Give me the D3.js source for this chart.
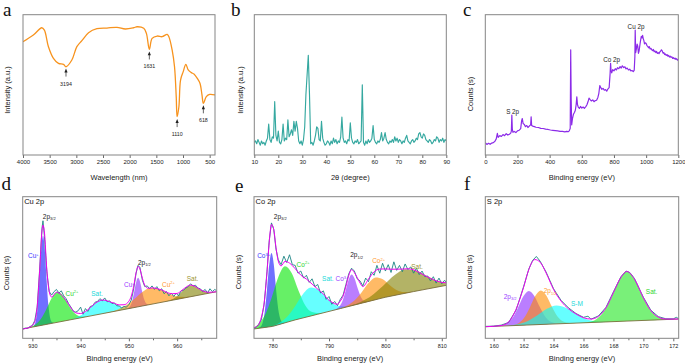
<!DOCTYPE html>
<html><head><meta charset="utf-8">
<script src="https://cdn.jsdelivr.net/npm/d3@7"></script>
<style>body{margin:0;background:#fff}svg{display:block}</style>
</head><body><script>
// ---------------- DATA ----------------
// (a) FTIR: [wavenumber, relative intensity 0-100]
const ftirSpectrum = [[4000,80.8],[3806,85.5],[3649,90.7],[3599,89],[3523,77.2],[3429,68.9],[3335,65.3],[3241,64.6],[3194,62.9],[3084,67.7],[2990,77.2],[2896,81.5],[2771,87.2],[2614,90],[2426,90.5],[2238,91],[2081,89.8],[1924,90.7],[1861,91.4],[1736,90.3],[1686,86.7],[1631,75.3],[1579,83.1],[1485,84.8],[1391,84.3],[1297,86],[1265,84.3],[1203,74.8],[1159,62.9],[1127,41.6],[1110,27.3],[1077,34.4],[1046,53.4],[996,59.4],[946,64.6],[902,60.6],[845,58.7],[795,57.7],[732,54.6],[682,51.1],[644,42.8],[618,36.8],[563,41.6],[500,43.2],[400,42.8]];
const ftirTicks = [4000,3500,3000,2500,2000,1500,1000,500];
const ftirPeaks = [3194,1631,1110,618];
const ftirPeakTips = [61.6,73.8,25.6,35.4];

// (b) XRD: 2theta from 10 to 90 in 0.5 steps
const xrdAngles = d3.range(0, 161).map(i => 10 + i * 0.5);
const xrdIntensity = [
 9,10,8,11,9,7,10,8,9,7,
 10,12,22,11,9,13,12,38,14,10,
 17,9,8,11,22,10,12,11,25,13,
 15,18,14,24,17,24,19,10,8,10,
 7,11,20,43,57,71,43,8,9,7,
 10,14,20,19,11,10,24,12,9,7,
 8,10,9,7,10,8,12,9,11,8,
 10,9,13,27,12,9,10,8,11,10,
 23,12,9,8,10,9,11,8,9,10,
 50,9,7,10,8,11,9,10,12,21,
 11,9,8,10,9,11,16,10,12,16,
 11,9,8,10,9,11,9,13,10,12,
 9,11,10,8,10,9,12,14,10,9,
 8,10,11,9,10,12,11,15,16,13,
 12,15,14,11,10,9,11,10,8,9,
 11,10,13,12,9,11,10,12,9,11,
 10];
const xrdTicks = [10,20,30,40,50,60,70,80,90];

// (c) XPS survey: [binding energy, counts 0-100]
const surveySpectrum = [[0,8.8],[10,7.5],[20,8.3],[30,7.6],[40,8.5],[50,8.8],[60,9.8],[68,11.5],[75,15.5],[80,12.5],[90,13.8],[100,13.2],[110,14.6],[120,13.8],[130,15.2],[140,14.2],[150,14.8],[158,15.6],[162,17],[165,28.5],[168,18.5],[172,16.2],[180,16.8],[190,16],[200,17.2],[210,17.6],[220,18.8],[226,24.5],[230,26],[235,22.5],[242,21.8],[250,20.2],[258,21],[265,19.6],[275,20.8],[282,21.5],[285,27.2],[288,21],[295,20.6],[305,20.2],[315,19.8],[330,19.6],[345,19],[360,18.9],[375,18.4],[390,18.2],[405,17.8],[420,17.6],[435,17.4],[450,17.2],[465,16.9],[480,16.8],[495,16.5],[505,16.8],[515,16.6],[522,17.2],[528,19],[531,75],[534,40],[537,21.5],[542,26],[548,29],[555,30.5],[560,32],[565,36],[569,41.5],[573,36],[578,34.2],[585,33.2],[592,34.6],[600,33.4],[608,34.2],[616,33.3],[625,34.5],[632,35.8],[640,38.5],[645,40.5],[652,39.5],[660,38.5],[668,39.3],[676,38],[684,38.8],[692,39],[700,41],[706,44],[712,49.5],[718,48],[725,46.8],[732,47.5],[740,46.2],[748,46.6],[755,45.5],[762,47],[770,48],[776,58],[779,65.3],[782,60],[786,58.5],[792,60.8],[800,60],[808,61.5],[815,60.6],[822,62.2],[830,61.5],[838,63],[845,62],[852,63.6],[860,62.3],[868,62.8],[875,61.4],[882,62],[890,60.6],[898,61.2],[905,60],[912,60.2],[920,59.4],[926,60.5],[930,70],[932,89],[935,73],[940,76],[944,79],[948,77.5],[952,72.5],[956,74],[962,79],[966,82],[970,84.5],[974,83.5],[978,85.3],[982,83],[986,81.5],[990,79.2],[995,80],[1000,79.5],[1005,78],[1010,77.4],[1015,76.4],[1020,77.2],[1025,75.6],[1030,76],[1035,75],[1040,74.4],[1045,75.2],[1050,73.6],[1055,74.2],[1060,73],[1065,73.8],[1070,72.4],[1075,73],[1080,72.2],[1085,73.4],[1090,74],[1095,75],[1100,74.2],[1105,72.6],[1110,73],[1115,71.6],[1120,72],[1125,71],[1130,71.6],[1135,70.4],[1140,71],[1145,69.8],[1150,70.4],[1155,69.6],[1160,70],[1165,68.8],[1170,69.4],[1175,68.6],[1180,69],[1185,68.2],[1190,68.6],[1195,67.6],[1200,68.2]];
const surveyTicks = [0,200,400,600,800,1000,1200];
const surveyLabels = ["S 2p","Co 2p","Cu 2p"];
const surveyLabelEnergy = [170,785,937];
const surveyLabelLevel = [28.9,66.6,89.8];

// (d) Cu 2p: background, components (height above background), envelope, data
const cuBackground = [[928,6.6],[968.2,32.9]];
const cuPlus32 = [[929.8,0],[930.3,0.8],[930.7,3.9],[931.08,13.2],[931.45,31.5],[931.83,53],[932.2,63],[932.58,53],[932.95,31.5],[933.33,13.2],[933.7,3.9],[934.1,0.8],[934.6,0]];
const cu2Plus32 = [[928.2,0],[929.45,0.3],[930.6,1.3],[931.75,4.5],[932.9,10.75],[934.05,18],[935.2,21.5],[936.35,18],[937.5,10.75],[938.65,4.5],[939.8,1.3],[940.95,0.3],[942.2,0]];
const cuSat1 = [[937.4,0],[938.9,0.6],[940.3,2],[941.65,4.85],[943,8.15],[944.4,9.7],[945.8,8.15],[947.15,4.85],[948.5,2],[949.9,0.6],[951.4,0]];
const cuPlus12 = [[949.1,0],[949.7,0.25],[950.2,1.3],[950.63,4.3],[951.05,10.3],[951.48,17.3],[951.9,20.6],[952.33,17.3],[952.75,10.3],[953.18,4.3],[953.6,1.3],[954.1,0.25],[954.7,0]];
const cu2Plus12 = [[945,0],[946,0.15],[947.5,0.7],[949.25,2.4],[951,5.75],[952.75,9.7],[954.5,11.5],[956.25,9.7],[958,5.75],[959.75,2.4],[961.5,0.7],[963,0.15],[964,0]];
const cuSat2 = [[957.5,0],[958.7,0.5],[959.7,1.7],[960.7,4],[961.7,6.75],[962.7,8],[963.7,6.75],[964.7,4],[965.7,1.7],[966.7,0.5],[967.9,0]];
const cuEnvelope = [[928,6.6],[929.5,7.9],[930.5,11.7],[931,22.1],[931.5,46.7],[932,75.8],[932.2,80],[932.5,75.1],[933,48.4],[933.5,32.8],[934,29.1],[935,32.5],[936,30.7],[937,26.6],[938,21.5],[939,18],[940,17.5],[941,18.9],[942,21.6],[943,24.6],[944,26.6],[944.4,27],[945,26.9],[946,25.8],[947,24.7],[948,23.6],[949,23.7],[950,26.2],[950.5,29.8],[951,36.8],[951.5,46.4],[951.9,50.8],[952.3,48.8],[952.8,42.4],[953.3,37.4],[954,35.3],[955,35.6],[956,34.9],[957,33.9],[958,32.2],[959,31.5],[960,31.7],[961,33.9],[962,36.5],[962.7,37.6],[963.5,37.05],[964.5,35],[965.5,33.2],[966.5,32.5],[968.2,32.9]];
const cuData = [[928,6.5],[928.5,7.2],[929,7],[929.5,8.3],[930,9],[930.5,12.5],[931,22],[931.5,48],[932,78],[932.2,83],[932.5,72],[933,47],[933.5,33],[934,30.5],[934.5,33],[935,34.5],[935.5,32],[936,33.5],[936.5,30],[937,28],[937.5,24.5],[938,22],[938.5,19],[939,18.5],[939.5,19.5],[940,22],[940.5,17],[941,21],[941.5,19],[942,22.5],[942.5,23],[943,25.5],[943.5,26],[944,28],[944.5,26.5],[945,28.5],[945.5,25.8],[946,26.5],[946.5,24.5],[947,25],[947.5,23],[948,22.8],[948.5,21.5],[949,22.5],[949.5,22],[950,23.8],[950.5,27],[951,35],[951.5,46],[951.9,51.5],[952.3,50],[952.8,41],[953.3,36.5],[953.8,37],[954.3,35],[954.8,37],[955.3,34.5],[955.8,36.5],[956.3,33.5],[956.8,35],[957.3,31.5],[957.8,33],[958.3,30],[958.8,32],[959.3,29.5],[959.8,31.8],[960.3,30],[960.8,33.5],[961.3,34],[961.8,35.5],[962.3,36.5],[962.8,38.5],[963.3,37],[963.8,37.5],[964.3,35.5],[964.8,35],[965.3,33],[965.8,34.5],[966.3,32],[966.8,35],[967.3,33],[967.8,34.5],[968.2,33.5]];
const cuTicks = [930,940,950,960];
const cuMinorTicks = [935,945,955,965];
// labels: text parts, energy, level, component index (-1 = neutral)
const cuLabels = [
  {parts:[["2p"],["3/2","sub"]], e:933.5, v:84.3, comp:-1},
  {parts:[["Cu"],["+","sup"]], e:930.2, v:56.5, comp:0},
  {parts:[["Cu"],["2+","sup"]], e:938.2, v:30, comp:1},
  {parts:[["Sat."]], e:943.4, v:30, comp:2},
  {parts:[["2p"],["1/2","sub"]], e:953.2, v:51.9, comp:-1},
  {parts:[["Cu"],["+","sup"]], e:950.1, v:36, comp:3},
  {parts:[["Cu"],["2+","sup"]], e:958.2, v:36.4, comp:4},
  {parts:[["Sat."]], e:963.2, v:40.3, comp:5}];

// (e) Co 2p
const coBackground = [[776.7,6.6],[780,8.4],[784,13],[788,17],[792,21],[796,25],[800,29],[805,33],[810.8,37.4]];
const co3Plus32 = [[777.2,0],[777.8,0.7],[778.2,3.2],[778.6,10.9],[779,26],[779.4,43.8],[779.8,52],[780.2,43.8],[780.6,26],[781,10.9],[781.4,3.2],[781.8,0.7],[782.4,0]];
const co2Plus32 = [[776.7,0.9],[777.4,2.5],[778.6,8.4],[779.8,20],[781,33.6],[782.2,40],[783.4,33.6],[784.6,20],[785.8,8.4],[787,2.5],[788.2,0.5],[789.6,0]];
const coSat1 = [[779.8,0],[781.3,1.25],[782.7,4.2],[784.05,10],[785.4,16.8],[786.8,20],[788.2,16.8],[789.55,10],[790.9,4.2],[792.3,1.25],[793.8,0]];
const co3Plus12 = [[790.6,0],[791.2,0.3],[791.8,1.4],[792.35,4.6],[792.9,11],[793.45,18.5],[794,22],[794.55,18.5],[795.1,11],[795.65,4.6],[796.2,1.4],[796.8,0.3],[797.4,0]];
const co2Plus12 = [[791.5,0],[793.3,0.98],[794.55,3.3],[795.8,7.8],[797.05,13.1],[798.3,15.6],[799.55,13.1],[800.8,7.8],[802.05,3.3],[803.3,0.98],[804.7,0.1],[805.5,0]];
const coSat2 = [[791.6,0],[793.6,0.23],[795.6,1.05],[797.6,3.6],[799.6,8.45],[801.6,14.2],[803.6,16.9],[805.6,14.2],[807.6,8.45],[809.6,3.6],[810.8,2]];
const coEnvelope = [[776.7,7.5],[777.5,9.5],[778,14.9],[778.5,25],[779,46.2],[779.4,67.9],[779.8,80.4],[780.2,76.9],[780.6,64.2],[781,54.6],[781.5,51.1],[782.2,54.3],[783,53.1],[784,49.2],[785,44.6],[786,41.8],[787,38.3],[788,34.7],[789,31.3],[790,26.8],[790.5,25.5],[791,24.4],[791.5,24.1],[792,26.3],[792.5,29.9],[793,36.7],[793.5,44.3],[794,48.5],[794.5,46.4],[795,42.9],[795.5,39.1],[796,36.5],[797,41.8],[798,47],[799,48.9],[800,49],[801,48.8],[802,48.8],[803,48.9],[804,49.1],[805,48.4],[806,46.5],[807,44.3],[808,42.3],[809,40.6],[810,39.5],[810.8,39.2]];
const coData = [[776.7,7.2],[777,7.5],[777.5,9.8],[778,13],[778.5,24],[779,47],[779.4,69],[779.8,81.5],[780.2,77],[780.6,63],[781,55.5],[781.5,52],[782,58],[782.5,53.5],[783,59],[783.5,52],[784,51.5],[784.5,46],[785,47.5],[785.5,42.5],[786,44.5],[786.5,39.5],[787,42],[787.5,36.5],[788,38],[788.5,32],[789,33.5],[789.5,27.5],[790,29.5],[790.5,24],[791,26],[791.5,23],[792,27.5],[792.5,30.5],[793,38],[793.5,45.5],[794,49.5],[794.5,47.5],[795,42],[795.5,40.5],[796,37],[796.5,42.5],[797,40],[797.5,47],[798,44.5],[798.5,51.5],[799,46],[799.5,53],[800,47.5],[800.5,52],[801,46.5],[801.5,54],[802,48],[802.5,51.5],[803,47],[803.5,52.5],[804,48.5],[804.5,50.5],[805,46],[805.5,49.5],[806,45],[806.5,47.5],[807,43.5],[807.5,44],[808,40.5],[808.5,43.5],[809,39],[809.5,42.5],[810,38.5],[810.5,41],[810.8,39.5]];
const coTicks = [780,790,800,810];
const coMinorTicks = [785,795,805];
const coLabels = [
  {parts:[["2p"],["3/2","sub"]], e:781.35, v:84.3, comp:-1},
  {parts:[["Co"],["3+","sup"]], e:778.4, v:56.5, comp:0},
  {parts:[["Co"],["2+","sup"]], e:785.4, v:50.6, comp:1},
  {parts:[["Sat."]], e:789.8, v:40.7, comp:2},
  {parts:[["2p"],["1/2","sub"]], e:794.9, v:57.2, comp:-1},
  {parts:[["Co"],["3+","sup"]], e:792.3, v:40.3, comp:3},
  {parts:[["Co"],["2+","sup"]], e:798.8, v:53, comp:4},
  {parts:[["Sat."]], e:805.6, v:48.9, comp:5}];

// (f) S 2p
const sBackground = [[159.44,8.2],[172.36,13.6]];
const s2p32 = [[159.95,0],[160.45,0.3],[160.85,1.5],[161.225,5],[161.6,12],[161.975,20.2],[162.35,24],[162.725,20.2],[163.1,12],[163.475,5],[163.85,1.5],[164.25,0.3],[164.75,0]];
const s2p12 = [[160.75,0],[161.25,0.3],[161.65,1.5],[162.025,5],[162.4,12],[162.775,20.2],[163.15,24],[163.525,20.2],[163.9,12],[164.275,5],[164.65,1.5],[165.05,0.3],[165.55,0]];
const sMetal = [[160.2,0],[160.9,0.1],[161.6,0.8],[162.25,2.7],[162.9,6.5],[163.55,10.9],[164.2,13],[164.85,10.9],[165.5,6.5],[166.15,2.7],[166.8,0.8],[167.5,0.1],[168.2,0]];
const sSat = [[165.7,0],[166.3,0.4],[166.85,2.2],[167.36,7.4],[167.875,17.5],[168.39,29.4],[168.9,35],[169.41,29.4],[169.925,17.5],[170.44,7.4],[170.95,2.2],[171.5,0.4],[172.1,0]];
const sEnvelope = [[159.44,8.2],[160.5,9],[161,11.6],[161.5,20.6],[162,36.1],[162.35,48.7],[162.75,55.6],[163.1,53.8],[163.5,46.2],[164,34.5],[164.5,26.3],[165,20.8],[165.5,17.2],[166,14.5],[166.5,13.6],[167,15.5],[167.5,21.5],[168,32.3],[168.5,43],[168.9,47.2],[169.4,41.9],[170,28.6],[170.5,19.5],[171,15],[171.5,13.6],[172.36,13.6]];
const sData = [[159.44,8.4],[160,8.6],[160.5,9.3],[161,11.2],[161.5,20],[162,36.5],[162.35,49],[162.6,55],[162.85,57.8],[163.1,54.5],[163.5,46.8],[164,35],[164.5,26.8],[165,21.5],[165.5,17.5],[166,14.8],[166.3,15.6],[166.5,13.5],[167,15.8],[167.5,21.8],[168,32.8],[168.5,43.5],[168.85,47.5],[169.1,46.4],[169.4,42.3],[170,29],[170.5,19.8],[171,15.3],[171.5,13.8],[172,13.7],[172.2,14.8],[172.36,13.8]];
const sTicks = [160,162,164,166,168,170,172];
const sMinorTicks = [161,163,165,167,169,171];
const sLabels = [
  {parts:[["2p"],["3/2","sub"]], e:161.1, v:27.8, comp:0},
  {parts:[["2p"],["1/2","sub"]], e:163.77, v:31.8, comp:1},
  {parts:[["S-M"]], e:165.56, v:22.6, comp:2},
  {parts:[["Sat."]], e:170.55, v:31.3, comp:3}];

// ---------------- DRAWING ----------------
const SANS = "'Liberation Sans', Arial, sans-serif";
const SERIF = "'Liberation Serif', 'Times New Roman', serif";
const svg = d3.select("body").append("svg").attr("width", 685).attr("height", 364)
  .attr("font-family", SANS);
const defs = svg.append("defs");

function makePanel(p) {
  const x = d3.scaleLinear().domain(p.domain).range([p.x0, p.x1]);
  const y = d3.scaleLinear().domain([0, 100]).range([p.y1, p.y0]);
  const g = svg.append("g");
  defs.append("clipPath").attr("id", "clip" + p.id).append("rect")
    .attr("x", p.x0).attr("y", p.y0).attr("width", p.x1 - p.x0).attr("height", p.y1 - p.y0);
  const plot = g.append("g").attr("clip-path", `url(#clip${p.id})`);
  const ax = g.append("g").attr("transform", `translate(0,${p.y1})`)
    .call(d3.axisBottom(x).tickValues(p.ticks).tickSize(3).tickPadding(p.pad).tickFormat(d3.format("d")));
  ax.select(".domain").remove();
  ax.attr("font-family", SANS).attr("font-size", p.tickFont);
  ax.selectAll("line").attr("stroke", "#444").attr("stroke-width", 0.8);
  ax.selectAll("text").attr("fill", "#222");
  if (p.minor) {
    const mx = g.append("g").attr("transform", `translate(0,${p.y1})`)
      .call(d3.axisBottom(x).tickValues(p.minor).tickSize(2).tickFormat(""));
    mx.select(".domain").remove();
    mx.selectAll("line").attr("stroke", "#444").attr("stroke-width", 0.8);
  }
  g.append("text").attr("x", (p.x0 + p.x1) / 2).attr("y", p.xTitleY).attr("text-anchor", "middle")
    .attr("font-size", 7.5).attr("fill", "#222").text(p.xTitle);
  g.append("text").attr("transform", `translate(${p.yTitleX},${p.yTitleY}) rotate(-90)`)
    .attr("text-anchor", "middle").attr("font-size", 7.5).attr("fill", "#222").text(p.yTitle);
  svg.append("text").attr("x", p.lx).attr("y", p.ly).attr("font-family", SERIF)
    .attr("font-size", 19).attr("fill", "#111").text(p.letter);
  if (p.inner) g.append("text").attr("x", p.x0 + 1.5).attr("y", p.y0 + 7.5)
    .attr("font-size", 7.5).attr("fill", "#111").text(p.inner);
  return {x, y, g, plot, p};
}
function frame(P) {
  const p = P.p;
  P.g.append("rect").attr("x", p.x0).attr("y", p.y0).attr("width", p.x1 - p.x0).attr("height", p.y1 - p.y0)
    .attr("fill", "none").attr("stroke", "#858585").attr("stroke-width", 1);
}
function line(P, data, color, w, curve) {
  P.plot.append("path").datum(data)
    .attr("d", d3.line().x(d => P.x(d[0])).y(d => P.y(d[1])).curve(curve || d3.curveLinear))
    .attr("fill", "none").attr("stroke", color).attr("stroke-width", w).attr("stroke-linejoin", "round");
}
function richLabel(g, x, y, parts, color, size) {
  const t = g.append("text").attr("x", x).attr("y", y).attr("text-anchor", "middle")
    .attr("font-size", size).attr("fill", color);
  parts.forEach(([str, kind]) => {
    const s = t.append("tspan").text(str);
    if (kind === "sup") s.attr("font-size", size * 0.62).attr("dy", -size * 0.38);
    if (kind === "sub") s.attr("font-size", size * 0.62).attr("dy", size * 0.22);
  });
}

const topCommon = {y0: 14.7, y1: 155, tickFont: 6, pad: 2, xTitleY: 180};
const botCommon = {y0: 196.7, y1: 338.3, tickFont: 5.5, pad: 3, xTitleY: 361};

// ---- a ----
const A = makePanel({...topCommon, id: "a", x0: 23, x1: 215, domain: [4000, 400], ticks: ftirTicks,
  xTitle: "Wavelength (nm)", yTitle: "Intensity (a.u.)", yTitleX: 10, yTitleY: 90, letter: "a", lx: 3, ly: 16});
line(A, ftirSpectrum, "#f7931e", 1.3, d3.curveCatmullRom);
ftirPeaks.forEach((wn, i) => {
  const px = A.x(wn), ty = A.y(ftirPeakTips[i]);
  A.g.append("line").attr("x1", px).attr("x2", px).attr("y1", ty + 3).attr("y2", ty + 8)
    .attr("stroke", "#222").attr("stroke-width", 0.7);
  A.g.append("path").attr("d", `M${px},${ty}L${px - 1.6},${ty + 3.8}L${px + 1.6},${ty + 3.8}Z`).attr("fill", "#222");
  A.g.append("text").attr("x", px).attr("y", ty + 17).attr("text-anchor", "middle")
    .attr("font-size", 5.3).attr("fill", "#222").text(wn);
});
frame(A);

// ---- b ----
const B = makePanel({...topCommon, id: "b", x0: 254.3, x1: 446.3, domain: [10, 90], ticks: xrdTicks,
  xTitle: "2θ (degree)", yTitle: "Intensity (a.u.)", yTitleX: 243, yTitleY: 90, letter: "b", lx: 231, ly: 15.5});
line(B, xrdAngles.map((a, i) => [a, xrdIntensity[i]]), "#35a8a0", 1.15);
frame(B);

// ---- c ----
const C = makePanel({...topCommon, id: "c", x0: 485.3, x1: 678.3, domain: [0, 1200], ticks: surveyTicks,
  xTitle: "Binding energy (eV)", yTitle: "Counts (s)", yTitleX: 472.5, yTitleY: 94, letter: "c", lx: 463, ly: 16});
line(C, surveySpectrum, "#8b2be8", 1.2);
surveyLabels.forEach((t, i) => {
  C.g.append("text").attr("x", C.x(surveyLabelEnergy[i])).attr("y", C.y(surveyLabelLevel[i]))
    .attr("text-anchor", "middle").attr("font-size", 6.3).attr("fill", "#222").text(t);
});
frame(C);

// ---- XPS helper ----
function xps(P, bgPts, comps, colors, env, data, labels, labelColors) {
  const bg = d3.scaleLinear().domain(bgPts.map(d => d[0])).range(bgPts.map(d => d[1]));
  comps.forEach((c, i) => {
    P.plot.append("path").datum(c)
      .attr("d", d3.area().x(d => P.x(d[0])).y0(d => P.y(bg(d[0]))).y1(d => P.y(bg(d[0]) + d[1])).curve(d3.curveMonotoneX))
      .attr("fill", colors[i]).attr("fill-opacity", 0.6).attr("stroke", "none");
  });
  line(P, bgPts, "#7a6e3c", 0.9);
  line(P, data, "#1d8585", 0.9);
  line(P, env, "#f000f0", 1, d3.curveMonotoneX);
  labels.forEach(l => {
    richLabel(P.g, P.x(l.e), P.y(l.v), l.parts, l.comp < 0 ? "#222" : labelColors[l.comp], 6.5);
  });
}

// ---- d ----
const D = makePanel({...botCommon, id: "d", x0: 22.7, x1: 216.7, domain: [928, 968.2], ticks: cuTicks, minor: cuMinorTicks,
  xTitle: "Binding energy (eV)", yTitle: "Counts (s)", yTitleX: 9.3, yTitleY: 273, letter: "d", lx: 1.5, ly: 190, inner: "Cu 2p"});
xps(D, cuBackground, [cuPlus32, cu2Plus32, cuSat1, cuPlus12, cu2Plus12, cuSat2],
  ["#1010ff", "#00e600", "#00ffff", "#8c28ff", "#ff8c00", "#808000"],
  cuEnvelope, cuData, cuLabels,
  ["#3a3aff", "#2ed62e", "#18d8d8", "#9b40ff", "#ff9a30", "#9a9430"]);
frame(D);

// ---- e ----
const E = makePanel({...botCommon, id: "e", x0: 254, x1: 446.3, domain: [776.7, 810.8], ticks: coTicks, minor: coMinorTicks,
  xTitle: "Binding energy (eV)", yTitle: "Counts (s)", yTitleX: 241, yTitleY: 272, letter: "e", lx: 235, ly: 191.5, inner: "Co 2p"});
xps(E, coBackground, [co3Plus32, co2Plus32, coSat1, co3Plus12, co2Plus12, coSat2],
  ["#1010ff", "#00e600", "#00ffff", "#8c28ff", "#ff8c00", "#808000"],
  coEnvelope, coData, coLabels,
  ["#3a3aff", "#2ed62e", "#18d8d8", "#9b40ff", "#ff9a30", "#9a9430"]);
frame(E);

// ---- f ----
const F = makePanel({...botCommon, id: "f", x0: 485.3, x1: 678.7, domain: [159.44, 172.36], ticks: sTicks, minor: sMinorTicks,
  xTitle: "Binding energy (eV)", yTitle: "Counts (s)", yTitleX: 472, yTitleY: 272, letter: "f", lx: 464, ly: 190, inner: "S 2p"});
xps(F, sBackground, [s2p32, s2p12, sMetal, sSat],
  ["#8c28ff", "#ff8c00", "#00ffff", "#20e620"],
  sEnvelope, sData, sLabels,
  ["#9b40ff", "#ff9a30", "#18d8d8", "#2ed62e"]);
frame(F);
</script></body></html>
